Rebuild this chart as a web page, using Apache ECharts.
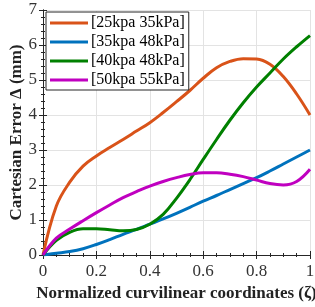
<!DOCTYPE html>
<html>
<head>
<meta charset="utf-8">
<script src="https://cdn.jsdelivr.net/npm/echarts@6/dist/echarts.min.js"></script>
<style>
  html, body { margin: 0; padding: 0; background: #fff; }
  #chart { width: 315px; height: 307px; }
</style>
</head>
<body>
<div id="chart"></div>
<script>
const zeta = [0, 0.05, 0.1, 0.15, 0.2, 0.25, 0.3, 0.35, 0.4, 0.45,
  0.5, 0.55, 0.6, 0.65, 0.7, 0.75, 0.8, 0.85, 0.9, 0.95, 1];

const names = ['[25kpa 35kPa]', '[35kpa 48kPa]', '[40kpa 48kPa]', '[50kpa 55kPa]'];
const colors = ['#D95319', '#0072BD', '#008000', '#C000C0'];

const err25 = [0, 1.4, 2.08, 2.54, 2.83, 3.07, 3.3, 3.54, 3.78, 4.07,
  4.38, 4.7, 5.05, 5.35, 5.53, 5.61, 5.6, 5.45, 5.1, 4.6, 4.0];
const err35 = [0, 0.05, 0.1, 0.18, 0.3, 0.44, 0.59, 0.73, 0.88, 1.03,
  1.19, 1.36, 1.54, 1.7, 1.87, 2.04, 2.21, 2.4, 2.6, 2.8, 3.0];
const err40 = [0, 0.42, 0.65, 0.75, 0.75, 0.72, 0.69, 0.73, 0.88, 1.16,
  1.62, 2.15, 2.73, 3.3, 3.85, 4.35, 4.8, 5.2, 5.6, 5.95, 6.27];
const err50 = [0, 0.48, 0.74, 0.98, 1.21, 1.43, 1.64, 1.81, 1.97, 2.1,
  2.21, 2.3, 2.35, 2.35, 2.31, 2.24, 2.14, 2.04, 2.0, 2.1, 2.45];

const serif = 'Liberation Serif';
const axisColor = '#262626';

function pairs(vals) {
  return zeta.map((z, i) => [z, vals[i]]);
}

function frameAxis(extra) {
  return Object.assign({
    type: 'value',
    axisLine: { show: true, lineStyle: { color: axisColor, width: 1 } },
    axisTick: { show: true, inside: true, length: 4, lineStyle: { color: axisColor } },
    splitLine: { show: false },
    axisLabel: { show: false }
  }, extra);
}

const chart = echarts.init(document.getElementById('chart'));

const series = [err25, err35, err40, err50].map((vals, i) => ({
  name: names[i],
  type: 'line',
  data: pairs(vals),
  smooth: 0.4,
  showSymbol: false,
  lineStyle: { width: 3, color: colors[i] },
  itemStyle: { color: colors[i] }
}));

chart.setOption({
  animation: false,
  grid: { left: 43, right: 5, top: 10, bottom: 52, containLabel: false, outerBoundsMode: 'none' },
  legend: {
    orient: 'vertical',
    left: 46,
    top: 12,
    padding: [3, 4, 2, 4],
    backgroundColor: '#fff',
    borderColor: '#262626',
    borderWidth: 1,
    itemWidth: 38,
    itemHeight: 3,
    itemGap: 3,
    icon: 'rect',
    textStyle: { fontFamily: serif, fontSize: 16, color: '#000', lineHeight: 16, padding: [0, 0, 0, -2] },
    data: names
  },
  xAxis: [
    frameAxis({
      min: 0, max: 1, interval: 0.2,
      minorTick: { show: true, splitNumber: 4, length: 2, lineStyle: { color: axisColor } },
      splitLine: { show: true, lineStyle: { color: '#e3e3e3', width: 1 } },
      axisLabel: { show: true, fontFamily: serif, fontSize: 17, color: '#333', margin: 8 },
      name: 'Normalized curvilinear coordinates (\u03B6)',
      nameLocation: 'middle',
      nameGap: 30,
      nameMoveOverlap: false,
      nameTextStyle: { fontFamily: serif, fontSize: 17, fontWeight: 'bold', color: '#222' }
    }),
    frameAxis({
      position: 'top', min: 0, max: 1, interval: 0.2,
      minorTick: { show: true, splitNumber: 4, length: 2, lineStyle: { color: axisColor } }
    })
  ],
  yAxis: [
    frameAxis({
      min: 0, max: 7, interval: 1,
      minorTick: { show: true, splitNumber: 5, length: 2, lineStyle: { color: axisColor } },
      splitLine: { show: true, lineStyle: { color: '#e3e3e3', width: 1 } },
      axisLabel: { show: true, fontFamily: serif, fontSize: 17, color: '#333', margin: 6 },
      name: 'Cartesian Error \u0394 (mm)',
      nameLocation: 'middle',
      nameGap: 18,
      nameMoveOverlap: false,
      nameTextStyle: { fontFamily: serif, fontSize: 17, fontWeight: 'bold', color: '#222' }
    }),
    frameAxis({
      position: 'right', min: 0, max: 7, interval: 1,
      minorTick: { show: true, splitNumber: 5, length: 2, lineStyle: { color: axisColor } }
    })
  ],
  series: series
});
</script>
</body>
</html>
